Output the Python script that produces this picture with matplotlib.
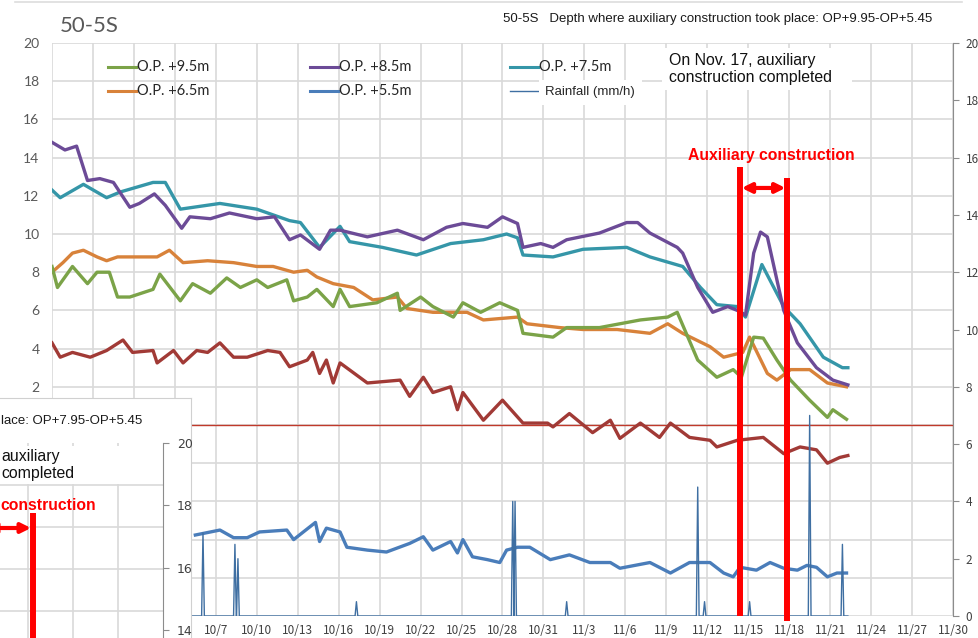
import numpy as np
import pandas as pd
import matplotlib
matplotlib.use("Agg")
import matplotlib.pyplot as plt
from matplotlib.lines import Line2D
from matplotlib.patches import Rectangle, FancyArrowPatch
import matplotlib.transforms as mtransforms

W, H = 979, 638

# x values are days counted from 9/25
purple_days = [0, 0.95, 1.8, 2.6, 3.5, 4.5, 5.7, 6.4, 7.5, 8.3, 9.5, 10.1, 11.6, 13.0, 15.0, 16.3, 17.4,
               18.2, 19.6, 20.4, 21.1, 23.1, 25.3, 27.2, 28.9, 30.1, 31.9, 33.0, 34.1, 34.5, 35.8, 36.7,
               37.7, 40.1, 42.1, 42.9, 43.8, 45.8, 46.2, 47.3, 48.4, 49.5, 50.2, 50.8, 51.4, 51.9, 52.4,
               53.1, 53.6, 54.6, 56.0, 57.2, 58.3]
purple_vals = [14.8, 14.4, 14.6, 12.8, 12.9, 12.7, 11.4, 11.6, 12.1, 11.5, 10.3, 10.9, 10.8, 11.1, 10.8, 10.9, 9.7,
               9.95, 9.2, 10.2, 10.2, 9.85, 10.2, 9.7, 10.35, 10.55, 10.35, 10.9, 10.55, 9.3, 9.5, 9.3,
               9.7, 10.05, 10.6, 10.6, 10.05, 9.3, 9.0, 7.2, 5.9, 6.2, 6.0, 5.75, 9.0, 10.1, 9.85,
               7.6, 6.0, 4.3, 3.0, 2.35, 2.1]

teal_days = [0, 0.6, 2.3, 4.0, 5.0, 7.4, 8.3, 9.4, 12.3, 15.0, 17.4, 18.2, 19.6, 21.1, 21.8, 24.2, 26.7,
             29.2, 31.6, 33.3, 34.1, 34.5, 36.7, 38.9, 42.1, 43.8, 46.2, 47.5, 48.7, 50.2, 50.8, 52.0,
             53.6, 54.8, 56.5, 57.9, 58.3]
teal_vals = [12.3, 11.9, 12.6, 11.9, 12.2, 12.7, 12.7, 11.3, 11.6, 11.3, 10.7, 10.6, 9.3, 10.4, 9.6, 9.3, 8.9,
             9.5, 9.7, 10.0, 9.8, 8.9, 8.8, 9.2, 9.3, 8.8, 8.3, 7.2, 6.3, 6.2, 5.65, 8.4,
             6.2, 5.3, 3.55, 3.0, 3.0]

green_days = [0, 0.4, 1.5, 2.6, 3.3, 4.2, 4.8, 5.7, 7.4, 7.9, 9.4, 10.3, 11.6, 12.8, 13.8, 15.0, 15.8,
              17.2, 17.7, 18.7, 19.4, 20.6, 21.1, 21.8, 23.8, 25.3, 25.5, 27.0, 27.9, 29.4, 30.1, 31.4,
              32.8, 34.1, 34.5, 36.7, 37.7, 40.1, 43.1, 45.1, 45.8, 47.3, 48.7, 49.9, 50.5, 51.4, 52.1,
              53.1, 54.1, 55.5, 56.8, 57.2, 58.2]
green_vals = [8.3, 7.2, 8.3, 7.4, 8.0, 8.0, 6.7, 6.7, 7.1, 7.9, 6.5, 7.4, 6.9, 7.7, 7.2, 7.6, 7.2,
              7.6, 6.5, 6.7, 7.1, 6.2, 7.1, 6.2, 6.4, 6.9, 6.0, 6.7, 6.2, 5.65, 6.4, 5.9,
              6.4, 6.0, 4.8, 4.6, 5.1, 5.1, 5.5, 5.65, 5.9, 3.4, 2.5, 2.9, 2.5, 4.6, 4.55,
              3.4, 2.35, 1.3, 0.4, 0.8, 0.3]

orange_days = [0, 0.8, 1.5, 2.3, 3.3, 4.0, 4.8, 6.4, 7.7, 8.6, 9.6, 11.4, 13.3, 15.0, 16.2, 17.7, 18.7,
               19.4, 20.6, 22.1, 23.5, 25.3, 26.0, 27.9, 30.4, 31.6, 34.1, 34.8, 37.2, 38.9, 41.4, 43.8,
               45.1, 46.2, 48.2, 49.2, 50.6, 51.1, 52.4, 53.1, 54.1, 55.5, 56.8, 58.2]
orange_vals = [8.0, 8.5, 9.0, 9.15, 8.8, 8.6, 8.8, 8.8, 8.8, 9.15, 8.5, 8.6, 8.5, 8.3, 8.3, 8.0, 8.1,
               7.75, 7.4, 7.2, 6.55, 6.7, 6.1, 5.9, 5.9, 5.5, 5.65, 5.3, 5.1, 5.0, 5.0, 4.8,
               5.3, 4.8, 4.1, 3.55, 3.8, 4.6, 2.7, 2.35, 2.9, 2.9, 2.2, 2.0]

red_days = [0, 0.6, 1.5, 2.8, 4.0, 5.2, 5.9, 7.4, 7.7, 8.9, 9.6, 10.6, 11.4, 12.3, 13.3, 14.3, 15.8,
            16.7, 17.4, 18.7, 19.1, 19.6, 20.1, 20.6, 21.1, 23.1, 25.5, 26.2, 27.2, 27.9, 29.2, 29.7,
            30.1, 31.6, 33.0, 34.5, 36.3, 36.7, 37.9, 39.6, 40.9, 41.6, 43.1, 44.5, 45.3, 46.7, 48.2,
            48.7, 50.2, 52.1, 53.6, 54.8, 56.0, 56.8, 57.7, 58.3]
red_vals = [4.3, 3.55, 3.8, 3.55, 3.9, 4.45, 3.8, 3.9, 3.25, 3.9, 3.25, 3.9, 3.8, 4.3, 3.55, 3.55, 3.9,
            3.8, 3.05, 3.4, 3.8, 2.7, 3.4, 2.2, 3.25, 2.2, 2.35, 1.5, 2.5, 1.7, 2.0, 0.8,
            1.7, 0.25, 1.3, 0.1, 0.1, -0.1, 0.6, -0.4, 0.25, -0.7, 0.1, -0.65, 0.1, -0.65, -0.8,
            -1.15, -0.8, -0.65, -1.5, -1.15, -1.3, -2.0, -1.7, -1.6]

blue_days = [10.5, 12.3, 13.3, 14.3, 15.2, 17.2, 17.7, 19.3, 19.6, 20.1, 21.1, 21.6, 23.1, 24.5, 26.2,
             27.2, 27.9, 29.2, 29.7, 30.1, 30.8, 31.9, 32.8, 33.3, 34.1, 35.0, 36.5, 37.9, 39.4, 40.9,
             41.6, 43.8, 45.3, 46.7, 48.2, 49.2, 49.9, 50.4, 51.6, 52.6, 53.6, 54.6, 55.3, 56.0, 56.8,
             57.5, 58.2]
blue_vals = [-5.76, -5.5, -5.9, -5.9, -5.6, -5.5, -6.0, -5.1, -6.1, -5.4, -5.6, -6.4, -6.55, -6.65, -6.2,
             -5.85, -6.55, -6.1, -6.7, -6.0, -6.9, -7.05, -7.2, -6.55, -6.4, -6.4, -7.05, -6.8, -7.2, -7.2,
             -7.5, -7.2, -7.75, -7.2, -7.2, -7.75, -7.95, -7.45, -7.6, -7.2, -7.5, -7.6, -7.35, -7.45, -7.95,
             -7.75, -7.75]

# rainfall (mm/h, right axis): short showers
rain_span = [10.3, 58.3]
rain_days = [11.06, 13.4, 13.62, 22.3, 33.75, 33.92, 37.7, 47.3, 47.8, 51.1, 55.5, 57.9]
rain_peaks = [2.9, 2.5, 2.0, 0.5, 4.0, 4.0, 0.5, 4.5, 0.5, 0.5, 7.0, 2.5]

aux_start, aux_end = 50.4, 53.85   # auxiliary construction period

tick_days = np.arange(0, 67, 3)
tick_labels = [f"{d.month}/{d.day}" for d in pd.date_range("2021-09-25", periods=len(tick_days), freq="3D")]
left_ticks = np.arange(-10, 21, 2)

c_green, c_purple, c_teal = "#7BA348", "#6C4B97", "#3596A8"
c_orange, c_blue, c_red, c_rain = "#D8823A", "#4A7DBA", "#A13A36", "#3F6FA2"
grid_c = "#D9D9D9"
LW = 2.4


def fx(x):
    return x / W


def fy(y):
    return 1 - y / H


fig = plt.figure(figsize=(W / 100, H / 100), dpi=100)
fig.patch.set_facecolor("white")

ax = fig.add_axes([fx(52), fy(616), (953 - 52) / W, (616 - 43) / H])
ax.set_xlim(0, 66)
ax.set_ylim(-10, 20)
ax.set_axisbelow(True)
ax.set_xticks(tick_days)
# the first labels sit behind the overlapping chart at the bottom left
ax.set_xticklabels([lab if d >= 12 else "" for d, lab in zip(tick_days, tick_labels)],
                   fontsize=8.5, color="#404040", family=["Noto Sans CJK JP", "DejaVu Sans"])
ax.set_yticks(left_ticks)
ax.set_yticklabels([str(v) if v > 0 else "" for v in left_ticks], fontsize=10, color="#595959", family="Lato")
ax.tick_params(axis="both", length=0)
ax.tick_params(axis="y", pad=9)
ax.tick_params(axis="x", pad=6)
ax.grid(True, color=grid_c, lw=1.2)
for s in ax.spines.values():
    s.set_visible(False)

ax.axhline(0, color="#C0392B", lw=1.0, zorder=1)
ax.plot(red_days, red_vals, color=c_red, lw=LW)
ax.plot(orange_days, orange_vals, color=c_orange, lw=LW)
ax.plot(green_days, green_vals, color=c_green, lw=LW)
ax.plot(teal_days, teal_vals, color=c_teal, lw=LW)
ax.plot(purple_days, purple_vals, color=c_purple, lw=LW)
ax.plot(blue_days, blue_vals, color=c_blue, lw=LW)

ax2 = ax.twinx()
ax2.set_ylim(0, 20)
ax2.set_yticks(np.arange(0, 21, 2))
ax2.tick_params(axis="y", length=4, color="#8c8c8c", labelsize=8.5, labelcolor="#404040", pad=5)
for lab in ax2.get_yticklabels():
    lab.set_family(["Noto Sans CJK JP", "DejaVu Sans"])
for k in ["top", "left", "bottom"]:
    ax2.spines[k].set_visible(False)
ax2.spines["right"].set_color("#8c8c8c")

rt, rv = [rain_span[0]], [0.0]
for d, p in zip(rain_days, rain_peaks):
    rt += [d - 0.1, d, d + 0.1]
    rv += [0.0, p, 0.0]
rt.append(rain_span[1])
rv.append(0.0)
ax2.plot(rt, rv, color=c_rain, lw=1.0, zorder=2)

# construction markers
blend = mtransforms.blended_transform_factory(ax2.transData, ax2.transAxes)
ax2.plot([aux_start, aux_start], [0, 0.784], transform=blend, color="red", lw=4.3,
         solid_capstyle="butt", clip_on=False, zorder=10)
ax2.plot([aux_end, aux_end], [-0.009, 0.764], transform=blend, color="red", lw=4.3,
         solid_capstyle="butt", clip_on=False, zorder=10)
ax2.annotate("", xy=(aux_end - 0.12, 0.747), xytext=(aux_start + 0.12, 0.747),
             xycoords=blend, textcoords=blend,
             arrowprops=dict(arrowstyle="<|-|>", color="red", lw=3, mutation_scale=14,
                             shrinkA=0, shrinkB=0), zorder=10)
ax2.text(fx(771), fy(156), "Auxiliary construction", transform=fig.transFigure, color="red",
         fontsize=11.3, fontweight="bold", family="Liberation Sans", ha="center", va="center")

# annotation box
ax2.add_patch(Rectangle((fx(662), fy(90)), (852 - 662) / W, 42 / H, transform=fig.transFigure,
                        facecolor="white", edgecolor="none", zorder=3))
ax2.text(fx(669), fy(69), "On Nov. 17, auxiliary\nconstruction completed", transform=fig.transFigure,
         fontsize=11.4, family="Liberation Sans", color="#111111", ha="left", va="center",
         linespacing=1.1, zorder=4)

# legend
legend_rows = [
    [(108, c_green, "O.P. +9.5m"), (310, c_purple, "O.P. +8.5m"), (510, c_teal, "O.P. +7.5m")],
    [(108, c_orange, "O.P. +6.5m"), (310, c_blue, "O.P. +5.5m")],
]
for yy, row in zip([67, 91], legend_rows):
    for x0, col, lab in row:
        fig.add_artist(Line2D([fx(x0), fx(x0 + 28)], [fy(yy), fy(yy)], color=col, lw=2.2))
        fig.text(fx(x0 + 29), fy(yy), lab, fontsize=10.5, family="Lato", color="#262626", va="center")
fig.add_artist(Line2D([fx(510), fx(538)], [fy(91), fy(91)], color=c_rain, lw=1.0))
fig.add_artist(Rectangle((fx(539), fy(105)), 103 / W, 25 / H, transform=fig.transFigure,
                         facecolor="white", edgecolor="none", zorder=2))
fig.text(fx(545), fy(92), "Rainfall (mm/h)", fontsize=9.5, family="Liberation Sans",
         color="#262626", va="center", zorder=3)

# header
fig.text(fx(60), fy(26), "50-5S", fontsize=16, family="Lato", color="#595959", va="center")
fig.text(fx(503), fy(19), "50-5S   Depth where auxiliary construction took place: OP+9.95-OP+5.45",
         fontsize=9.5, family="Liberation Sans", color="#1a1a1a", va="center")
fig.add_artist(Line2D([fx(15), fx(962)], [fy(2), fy(2)], color="#dddddd", lw=1.2))

# overlapping second chart (bottom left), only its right part is visible
box = fig.add_axes([0, 0, fx(191), (638 - 398) / H], zorder=5)
box.set_facecolor("white")
box.set_xticks([])
box.set_yticks([])
box.spines["left"].set_visible(False)
box.spines["bottom"].set_visible(False)
box.spines["top"].set_color("#d0d0d0")
box.spines["right"].set_color("#d0d0d0")

ins = fig.add_axes([0, 0, fx(163), (638 - 443) / H], zorder=6)
ins.patch.set_alpha(0)
ins.set_xlim(-28 / 45, 3)
ins.set_ylim(20 - (638 - 443) / 31.2, 20)
ins.set_xticks([0, 1, 2])
ins.set_xticklabels([])
ins.set_yticks([14, 16, 18, 20])
ins.set_yticks(np.arange(20, 13.7, -1.345), minor=True)
ins.yaxis.tick_right()
ins.tick_params(axis="x", length=0)
ins.tick_params(axis="y", which="major", length=4, color="#8c8c8c", labelsize=9,
                labelcolor="#404040", pad=6)
ins.tick_params(axis="y", which="minor", length=0)
ins.grid(True, axis="x", color=grid_c, lw=1.2)
ins.grid(True, axis="y", which="minor", color=grid_c, lw=1.2)
for k in ["top", "left", "bottom"]:
    ins.spines[k].set_visible(False)
ins.spines["right"].set_color("#8c8c8c")

ins.text(fx(1), fy(421), "lace: OP+7.95-OP+5.45", transform=fig.transFigure, fontsize=9.5,
         family="Liberation Sans", color="#1a1a1a", ha="left", va="center")
ins.add_patch(Rectangle((0, fy(484)), fx(125), 38 / H, transform=fig.transFigure,
                        facecolor="white", edgecolor="none", zorder=3))
ins.text(fx(1), fy(465), "auxiliary\ncompleted", transform=fig.transFigure,
         fontsize=11.4, family="Liberation Sans", color="#111111", ha="left", va="center",
         linespacing=1.1, zorder=4)
ins.text(fx(0), fy(505), "construction", transform=fig.transFigure, color="red",
         fontsize=11.3, fontweight="bold", family="Liberation Sans", ha="left", va="center", zorder=4)
ins.add_line(Line2D([fx(33), fx(33)], [fy(513), fy(640)], transform=fig.transFigure, color="red",
                    lw=4.3, solid_capstyle="butt", clip_on=False, zorder=5))
ins.add_patch(FancyArrowPatch((fx(-14), fy(528)), (fx(31), fy(528)), transform=fig.transFigure,
                              arrowstyle="<|-|>", color="red", lw=3, mutation_scale=14,
                              shrinkA=0, shrinkB=0, clip_on=False, zorder=5))

fig.savefig("out.png", dpi=100)
